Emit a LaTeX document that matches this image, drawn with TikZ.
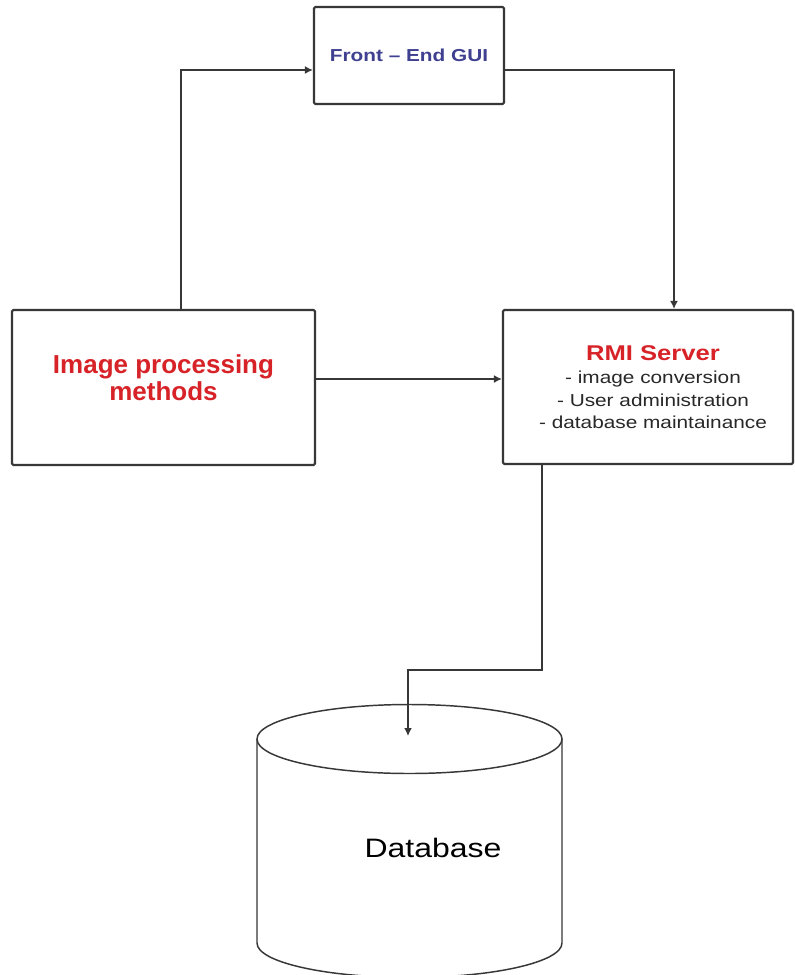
\documentclass[tikz,border=0pt]{standalone}
\usepackage{fontspec}
\setmainfont{Liberation Sans}
\newfontfamily\widefont[FakeStretch=1.2]{Liberation Sans}
\usetikzlibrary{arrows.meta}
\definecolor{boxline}{RGB}{55,55,55}
\definecolor{titlered}{RGB}{215,35,40}
\definecolor{guiblue}{RGB}{64,64,145}
\definecolor{subgray}{RGB}{40,40,40}
\begin{document}
\begin{tikzpicture}[x=0.75pt,y=-0.75pt,
  box/.style={draw=boxline,line width=1.6pt,rounded corners=1pt,inner sep=0pt,fill=white},
  conn/.style={draw=boxline,line width=1.5pt,-{Latex[length=6pt,width=6pt]}},
  cyl/.style={draw=boxline,line width=1.1pt},
  redtitle/.style={text=titlered,font=\bfseries},
  subline/.style={text=subgray,anchor=base,font=\widefont\fontsize{13}{15}\selectfont}]
\useasboundingbox[fill=white] (0,0) rectangle (795,975);

% boxes
\node[box,minimum width=142.5pt,minimum height=72.75pt,text=guiblue,
  font=\widefont\bfseries\fontsize{13}{15}\selectfont] (gui) at (409,55.5) {Front – End GUI};
\node[box,minimum width=227.25pt,minimum height=116.25pt] (img) at (163.5,387.5) {};
\node[box,minimum width=217.5pt,minimum height=115.5pt] (rmi) at (648,387) {};

% texts
\node[redtitle,align=center,font=\bfseries\fontsize{19.5}{20.25}\selectfont] (imgtext) at (163.5,378) {Image processing\\methods};
\node[redtitle,anchor=base,font=\widefont\bfseries\fontsize{16}{18}\selectfont] (rmititle) at (653,360) {RMI Server};
\node[subline] (rmil1) at (653,383) {- image conversion};
\node[subline] (rmil2) at (653,406) {- User administration};
\node[subline] (rmil3) at (653,428) {- database maintainance};

% database cylinder
\draw[cyl,fill=white] (257,739) -- (257,943) arc[start angle=180,end angle=360,x radius=114.375pt,y radius=25.875pt] -- (562,739);
\draw[cyl] (409.5,739) ellipse[x radius=114.375pt,y radius=25.875pt];
\node[anchor=base,text=black,font=\widefont\fontsize{20}{24}\selectfont] (db) at (433,857) {Database};
\coordinate (dbtop) at (408,736);

% connectors
\draw[conn] (img.north -| 181,0) |- (gui.west |- 0,70);
\draw[conn] (gui.east |- 0,70) -| (rmi.north -| 674,0);
\draw[conn] (img.east |- 0,379) -- (rmi.west |- 0,379);
\draw[conn] (rmi.south -| 542,0) |- (dbtop |- 0,670) -- (dbtop);
\end{tikzpicture}
\end{document}
